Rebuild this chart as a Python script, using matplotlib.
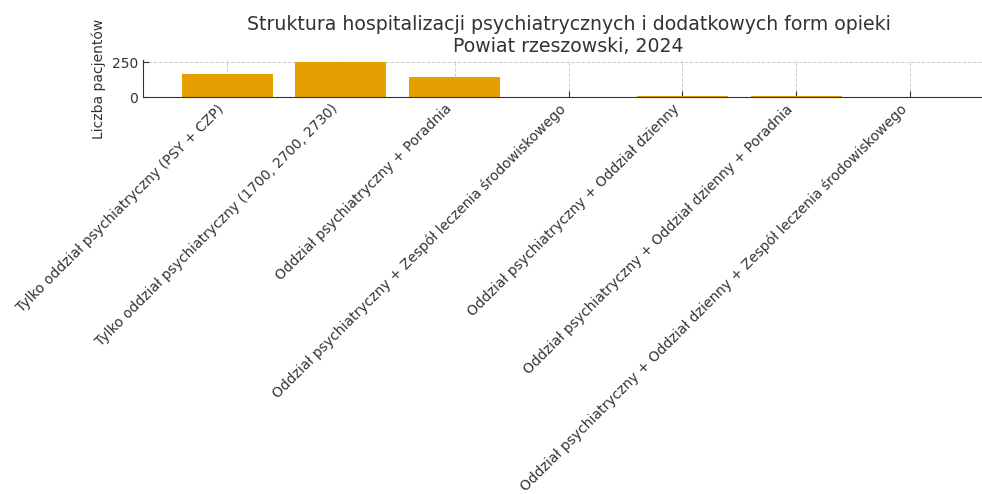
import matplotlib.pyplot as plt

# dane
kategorie = [
    "Tylko oddział psychiatryczny (PSY + CZP)",
    "Tylko oddział psychiatryczny (1700, 2700, 2730)",
    "Oddział psychiatryczny + Poradnia",
    "Oddział psychiatryczny + Zespół leczenia środowiskowego",
    "Oddział psychiatryczny + Oddział dzienny",
    "Oddział psychiatryczny + Oddział dzienny + Poradnia",
    "Oddział psychiatryczny + Oddział dzienny + Zespół leczenia środowiskowego",
]
pacjenci = [164, 252, 143, 0, 10, 5, 0]

kolor_tekstu = "#333333"

fig = plt.figure(figsize=(9.82, 4.94), dpi=100)
ax = fig.add_axes([0.1456, 0.8036, 0.8667, 0.075])

ax.bar(range(len(kategorie)), pacjenci, width=0.8, color="#E69F00",
       edgecolor="none", zorder=2)

ax.set_xticks(range(len(kategorie)))
ax.set_xticklabels(kategorie, rotation=45, ha="right",
                   fontsize=10, color=kolor_tekstu)
ax.set_yticks([0, 250])
ax.tick_params(axis="y", labelsize=10, labelcolor=kolor_tekstu)
ax.tick_params(direction="in", length=4, color="#333333")
ax.set_ylim(0, 265)

ax.grid(True, linestyle="--", color="#cccccc", linewidth=0.7, zorder=0)
ax.set_axisbelow(True)
for s in ["top", "right"]:
    ax.spines[s].set_visible(False)
ax.spines["left"].set_color("#333333")
ax.spines["bottom"].set_color("#333333")

ax.set_ylabel("Liczba pacjentów", fontsize=10, color=kolor_tekstu)
ax.set_title("Struktura hospitalizacji psychiatrycznych i dodatkowych form opieki\nPowiat rzeszowski, 2024",
             fontsize=13.6, color=kolor_tekstu, pad=6)

fig.savefig("out.png", dpi=100)
